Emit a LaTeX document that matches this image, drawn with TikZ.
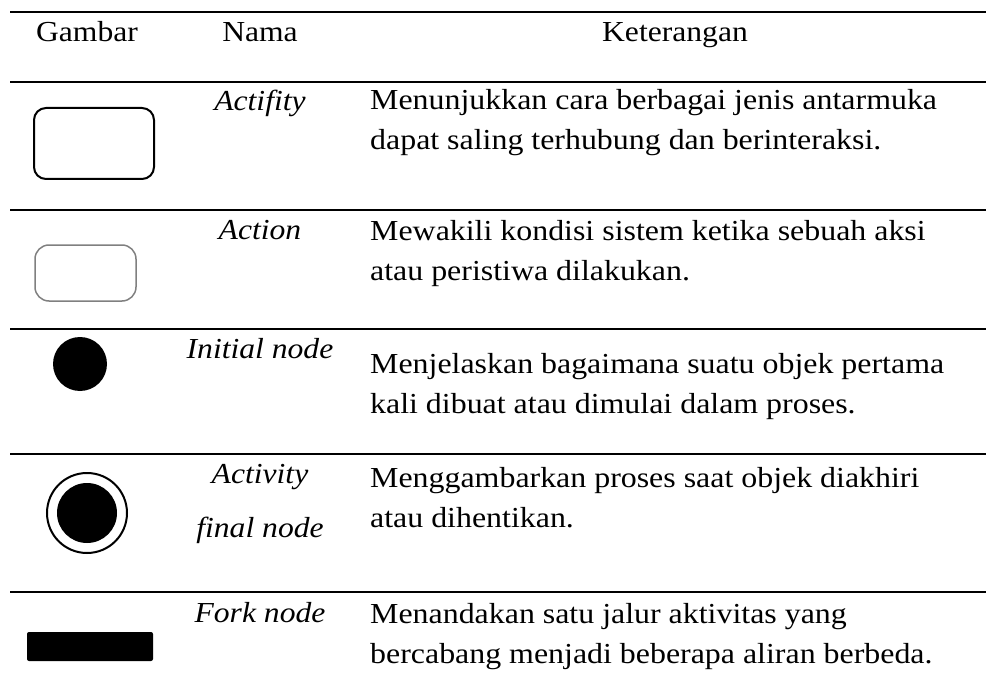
\documentclass[tikz,border=0pt]{standalone}
\usepackage{fontspec}
\setmainfont{Liberation Serif}[FakeStretch=1.09]
\newfontfamily\ketfont{Liberation Serif}[FakeStretch=1.10]
\usetikzlibrary{positioning}
\tikzset{
    %garis tabel
    garis/.style={line width=1.4pt},
    judul/.style={
      anchor=base,
      font=\fontsize{29}{40}\selectfont},
    nama/.style={
      anchor=base,
      align=center,
      font=\fontsize{29}{40}\selectfont\itshape},
    ket/.style={
      anchor=base west,
      align=left,
      inner sep=0pt,
      font=\ketfont\fontsize{29}{40}\selectfont},
    aktivitas/.style={
      rectangle,
      rounded corners=12pt,
      draw=black, line width=2pt,
      minimum width=120pt,
      minimum height=71pt},
    aksi/.style={
      rectangle,
      rounded corners=14pt,
      draw=gray, line width=1.5pt,
      minimum width=101pt,
      minimum height=56pt},
    bulat/.style={
      circle,
      fill=black,
      inner sep=0pt},
    cabang/.style={
      rectangle,
      rounded corners=2pt,
      fill=black,
      minimum width=126pt,
      minimum height=29pt},
}

\begin{document}
\begin{tikzpicture}[x=1pt,y=-1pt]
    \useasboundingbox (0,0) rectangle (986,698);
    % garis mendatar
    \foreach \y in {12,82,210,329,454,592}
      \draw [garis] (10,\y) -- (986,\y);
    % kepala tabel
    \node (hGambar) [judul] at (87,42)
          {Gambar};
    \node (hNama) [judul] at (260,42)
          {Nama};
    \node (hKet) [judul] at (675,42)
          {Keterangan};
    % baris 1 (titik dasar = baris terakhir)
    \node (gAktivitas) [aktivitas] at (94,143.5)
          {};
    \node (nAktivitas) [nama] at (260,111)
          {Actifity};
    \node (kAktivitas) [ket] at (370,150)
          {Menunjukkan cara berbagai jenis antarmuka\\dapat saling terhubung dan berinteraksi.};
    % baris 2
    \node (gAksi) [aksi] at (85.5,273)
          {};
    \node (nAksi) [nama] at (260,239)
          {Action};
    \node (kAksi) [ket] at (370,280)
          {Mewakili kondisi sistem ketika sebuah aksi\\atau peristiwa dilakukan.};
    % baris 3
    \node (gAwal) [bulat, minimum size=54pt] at (80,364)
          {};
    \node (nAwal) [nama] at (260,358)
          {Initial node};
    \node (kAwal) [ket] at (370,413)
          {Menjelaskan bagaimana suatu objek pertama\\kali dibuat atau dimulai dalam proses.};
    % baris 4
    \node (gAkhir) [circle, draw=black, line width=2pt, minimum size=80pt] at (87,513)
          {};
    \node (gAkhirIsi) [bulat, minimum size=60pt] at (gAkhir.center)
          {};
    \node (nAkhir) [nama] at (260,537)
          {Activity\\[14pt]final node};
    \node (kAkhir) [ket] at (370,527)
          {Menggambarkan proses saat objek diakhiri\\atau dihentikan.};
    % baris 5
    \node (gCabang) [cabang] at (90,646.5)
          {};
    \node (nCabang) [nama] at (260,622)
          {Fork node};
    \node (kCabang) [ket] at (370,663)
          {Menandakan satu jalur aktivitas yang\\bercabang menjadi beberapa aliran berbeda.};
\end{tikzpicture}
\end{document}
